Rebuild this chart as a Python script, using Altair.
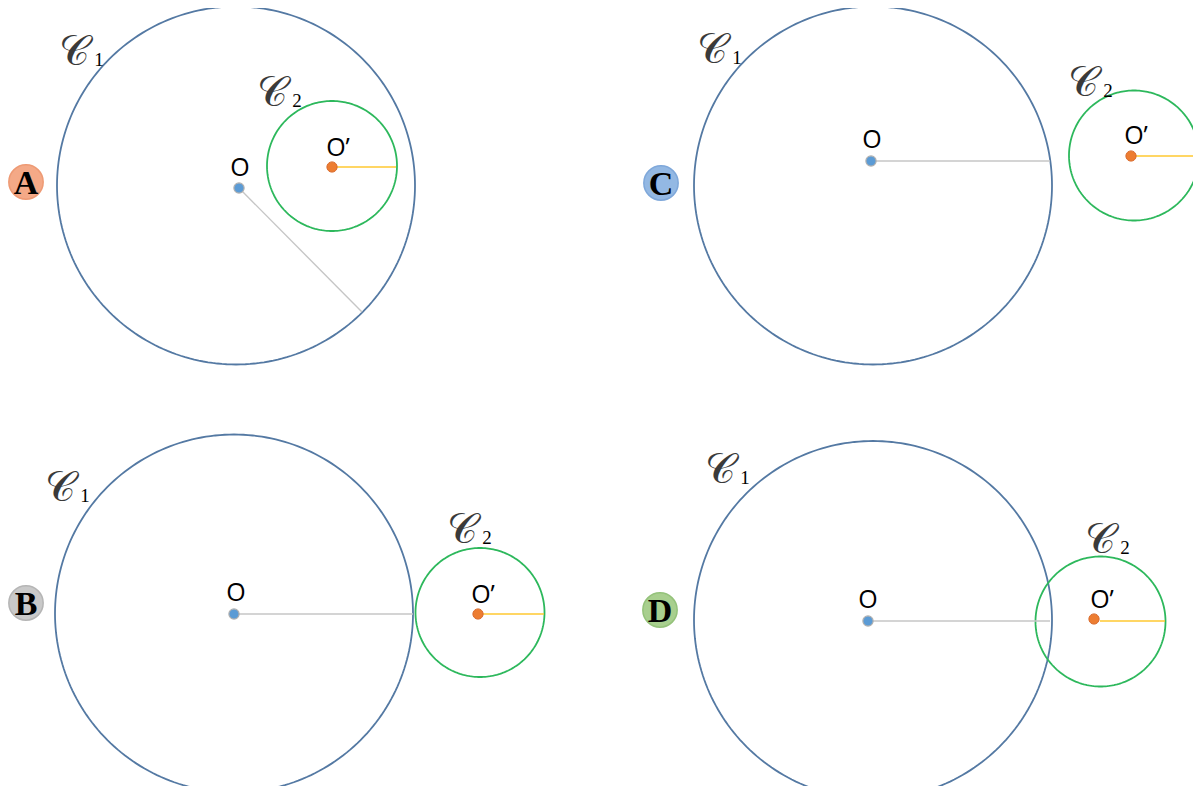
import altair as alt
import numpy as np
import pandas as pd

# ---- data (pixel coordinates of the picture) ----
panels = ["A", "B", "C", "D"]
badge_x = [26, 26, 661, 660]
badge_y = [182, 603, 183, 610]
badge_fill = ["#F4A987", "#C9C9C9", "#93B8E3", "#A8CF8E"]
badge_stroke = ["#EE9A74", "#B5B5B5", "#7FA8DA", "#94C27A"]

c1_cx = [236, 234, 873, 873]
c1_cy = [185.5, 613.5, 185.5, 620]
c1_r = [179, 179, 179, 179]

c2_cx = [332, 480, 1134, 1100.5]
c2_cy = [166, 612.5, 155.5, 621.5]
c2_r = [65, 64.5, 65, 65]

o_x = [239, 234, 871, 868]
o_y = [188, 614, 161, 621]
op_x = [332, 478, 1131, 1094]
op_y = [167, 614, 156, 619]

gray_x2 = [362, 413, 1050, 1050]
gray_y2 = [312, 614, 161, 621]
yel_x1 = [332, 478, 1131, 1100]
yel_x2 = [396, 544, 1199, 1165]
yel_y = [167, 614, 156, 621]

o_lab_x = [240, 236, 872, 868]
o_lab_y = [168, 593, 140, 600]
op_lab_x = [338, 483, 1136, 1102]
op_lab_y = [148, 595, 136, 600]

c1_lab_x = [74, 60, 712, 720]
c1_lab_y = [52, 488, 50, 470]
c2_lab_x = [272, 462, 1083, 1100]
c2_lab_y = [93, 530, 83, 540]

# ---- build tables ----
theta = np.linspace(0, 2 * np.pi, 241)
rows = []
for i, p in enumerate(panels):
    for name, cx, cy, r, col in (("C1", c1_cx[i], c1_cy[i], c1_r[i], "#5479A3"),
                                 ("C2", c2_cx[i], c2_cy[i], c2_r[i], "#2DB85C")):
        for k, t in enumerate(theta):
            rows.append({"id": p + name, "col": col, "k": k,
                         "x": cx + r * np.cos(t), "y": cy + r * np.sin(t)})
circles = pd.DataFrame(rows)

seg = pd.DataFrame(
    [{"col": "#C6C6C6", "x": o_x[i], "y": o_y[i], "x2": gray_x2[i], "y2": gray_y2[i]} for i in range(4)]
    + [{"col": "#FFC830", "x": yel_x1[i], "y": yel_y[i], "x2": yel_x2[i], "y2": yel_y[i]} for i in range(4)]
)

odots = pd.DataFrame({"x": o_x, "y": o_y})
opdots = pd.DataFrame({"x": op_x, "y": op_y})
badges = pd.DataFrame({"x": badge_x, "y": badge_y, "lab": panels,
                       "fill": badge_fill, "stroke": badge_stroke})
olabs = pd.DataFrame({"x": o_lab_x + op_lab_x, "y": o_lab_y + op_lab_y,
                      "t": ["O"] * 4 + ["O\u2019"] * 4})
script_c = pd.DataFrame({"x": c1_lab_x + c2_lab_x, "y": c1_lab_y + c2_lab_y,
                         "t": ["\U0001D49E"] * 8})
subs = pd.DataFrame({"x": [v + 25 for v in c1_lab_x + c2_lab_x],
                     "y": [v + 8 for v in c1_lab_y + c2_lab_y],
                     "t": ["1"] * 4 + ["2"] * 4})

W, H = 1185, 778
xs = alt.Scale(domain=[8, 8 + W], nice=False, zero=False)
ys = alt.Scale(domain=[8, 8 + H], nice=False, zero=False, reverse=True)
X = lambda f="x": alt.X(f"{f}:Q", scale=xs, axis=None)
Y = lambda f="y": alt.Y(f"{f}:Q", scale=ys, axis=None)

circ = alt.Chart(circles).mark_line(strokeWidth=1.8).encode(
    x=X(), y=Y(), detail="id:N", order="k:Q",
    stroke=alt.Stroke("col:N", scale=None),
)
segs = alt.Chart(seg).mark_rule(strokeWidth=1.4).encode(
    x=X(), y=Y(), x2="x2:Q", y2="y2:Q",
    stroke=alt.Stroke("col:N", scale=None),
)
od = alt.Chart(odots).mark_circle(size=105, opacity=1, fill="#5B9BD5", stroke="#B0B0B0", strokeWidth=1.2).encode(x=X(), y=Y())
opd = alt.Chart(opdots).mark_circle(size=105, opacity=1, fill="#ED7D31", stroke="#D9692A", strokeWidth=1).encode(x=X(), y=Y())
bd = alt.Chart(badges).mark_circle(size=1180, opacity=1, strokeWidth=1.5).encode(
    x=X(), y=Y(), fill=alt.Fill("fill:N", scale=None), stroke=alt.Stroke("stroke:N", scale=None))
bt = alt.Chart(badges).mark_text(font="Liberation Serif", fontWeight="bold", fontSize=34, baseline="middle", dy=2, color="black").encode(
    x=X(), y=Y(), text="lab:N")
ot = alt.Chart(olabs).mark_text(font="Open Sans", fontSize=25, baseline="middle", color="black").encode(x=X(), y=Y(), text="t:N")
sc = alt.Chart(script_c).mark_text(font="DejaVu Serif", fontSize=42, baseline="middle", color="#3a3a3a").encode(x=X(), y=Y(), text="t:N")
sb = alt.Chart(subs).mark_text(font="Liberation Serif", fontSize=19, baseline="middle", color="black").encode(x=X(), y=Y(), text="t:N")

chart = alt.layer(circ, segs, od, opd, bd, bt, ot, sc, sb).properties(
    width=W, height=H, padding=0, autosize="none"
).configure_view(stroke=None)

chart.save("out.html", embed_options={"renderer": "svg", "actions": False})
